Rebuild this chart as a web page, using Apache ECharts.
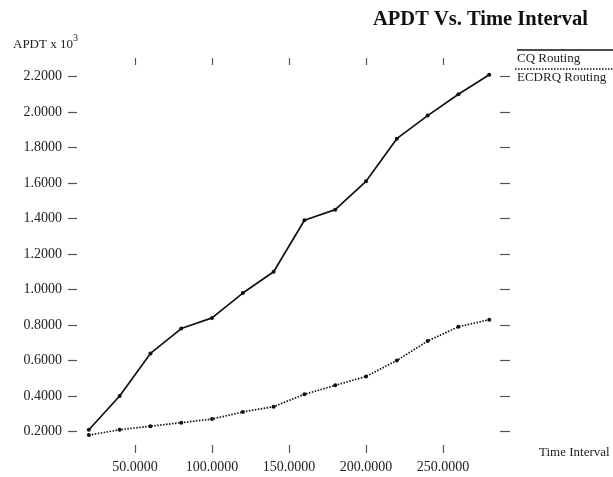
<!DOCTYPE html>
<html>
<head>
<meta charset="utf-8">
<script src="https://cdn.jsdelivr.net/npm/echarts@6/dist/echarts.min.js"></script>
<style>
  html, body { margin: 0; padding: 0; background: #fff; }
  #chart { width: 613px; height: 477px; }
</style>
</head>
<body>
<div id="chart"></div>
<script>
const timeInterval = [20, 40, 60, 80, 100, 120, 140, 160, 180, 200, 220, 240, 260, 280];
const cqRouting = [0.21, 0.40, 0.64, 0.78, 0.84, 0.98, 1.10, 1.39, 1.45, 1.61, 1.85, 1.98, 2.10, 2.21];
const ecdrqRouting = [0.18, 0.21, 0.23, 0.25, 0.27, 0.31, 0.34, 0.41, 0.46, 0.51, 0.60, 0.71, 0.79, 0.83];
const xTicks = [50, 100, 150, 200, 250];
const yTicks = [0.2, 0.4, 0.6, 0.8, 1.0, 1.2, 1.4, 1.6, 1.8, 2.0, 2.2];

const font = "'Liberation Serif', 'DejaVu Serif', serif";
const tickStyle = { color: "#555", width: 1.2 };
const xRange = { min: 12.3, max: 287 };
const yRange = { min: 0.124, max: 2.265 };

const chart = echarts.init(document.querySelector("#chart"));

function xAxisAt(position, withLabels) {
  return {
    type: "value",
    position,
    ...xRange,
    axisLine: { show: false },
    splitLine: { show: false },
    axisTick: { show: true, length: position === "top" ? 7 : 8, customValues: xTicks, lineStyle: tickStyle },
    axisLabel: {
      show: withLabels,
      customValues: xTicks,
      margin: 15,
      fontFamily: font,
      fontSize: 14,
      color: "#222",
      formatter: (value) => value.toFixed(4),
    },
  };
}

function yAxisAt(position, withLabels) {
  return {
    type: "value",
    position,
    ...yRange,
    axisLine: { show: false },
    splitLine: { show: false },
    axisTick: { show: true, length: position === "left" ? 9 : 10, customValues: yTicks, lineStyle: tickStyle },
    axisLabel: {
      show: withLabels,
      customValues: yTicks,
      margin: 15,
      fontFamily: font,
      fontSize: 14,
      color: "#222",
      formatter: (value) => value.toFixed(4),
    },
  };
}

chart.setOption({
  animation: false,
  title: [
    {
      text: "APDT Vs. Time Interval",
      left: 373,
      top: 9,
      padding: 0,
      textStyle: { fontFamily: font, fontSize: 20.5, fontWeight: "bold", color: "#111" },
    },
    {
      text: "{a|APDT x 10}{b|3}",
      left: 13,
      top: 33,
      padding: 0,
      textStyle: {
        fontWeight: "normal",
        rich: {
          a: { fontFamily: font, fontSize: 13, fontWeight: "normal", color: "#222", verticalAlign: "bottom", lineHeight: 18 },
          b: { fontFamily: font, fontSize: 10, fontWeight: "normal", color: "#222", verticalAlign: "top", lineHeight: 18 },
        },
      },
    },
    {
      text: "Time Interval",
      left: 539,
      top: 446,
      padding: 0,
      textStyle: { fontFamily: font, fontSize: 13, fontWeight: "normal", color: "#222" },
    },
  ],
  grid: { left: 77, right: 113, top: 65, bottom: 32, containLabel: false },
  xAxis: [xAxisAt("bottom", true), xAxisAt("top", false)],
  yAxis: [yAxisAt("left", true), yAxisAt("right", false)],
  graphic: [
    { type: "line", shape: { x1: 517, y1: 50, x2: 613, y2: 50 }, style: { stroke: "#111", lineWidth: 1.5 } },
    {
      type: "text",
      left: 517,
      top: 52,
      style: { text: "CQ Routing", font: `13px ${font}`, fill: "#222" },
    },
    {
      type: "line",
      shape: { x1: 515, y1: 69, x2: 613, y2: 69 },
      style: { stroke: "#111", lineWidth: 1.5, lineDash: [1.5, 1.5] },
    },
    {
      type: "text",
      left: 517,
      top: 71,
      style: { text: "ECDRQ Routing", font: `13px ${font}`, fill: "#222" },
    },
  ],
  series: [
    {
      name: "CQ Routing",
      type: "line",
      data: timeInterval.map((t, i) => [t, cqRouting[i]]),
      symbol: "circle",
      symbolSize: 4,
      itemStyle: { color: "#111" },
      lineStyle: { color: "#111", width: 1.7, type: "solid" },
    },
    {
      name: "ECDRQ Routing",
      type: "line",
      data: timeInterval.map((t, i) => [t, ecdrqRouting[i]]),
      symbol: "circle",
      symbolSize: 4,
      itemStyle: { color: "#111" },
      lineStyle: { color: "#111", width: 1.7, type: [1.5, 1.5] },
    },
  ],
});

window.addEventListener("resize", () => chart.resize());
</script>
</body>
</html>
